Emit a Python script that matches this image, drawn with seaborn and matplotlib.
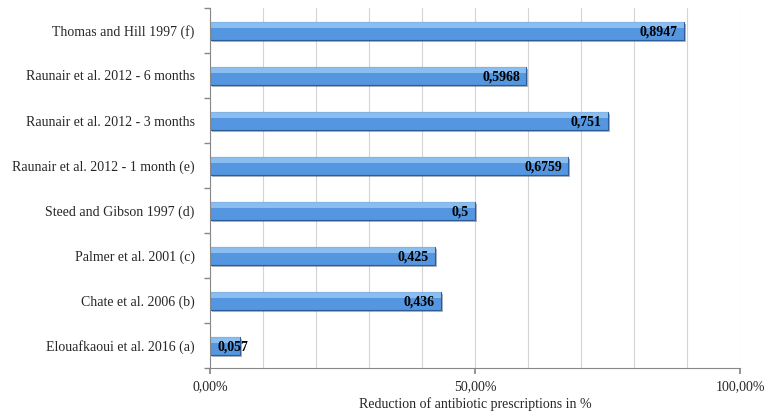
import matplotlib
matplotlib.use("Agg")
import matplotlib.pyplot as plt
import matplotlib.patheffects as pe
import numpy as np
import pandas as pd
import seaborn as sns

studies = [
    "Thomas and Hill 1997 (f)",
    "Raunair et al. 2012 - 6 months",
    "Raunair et al. 2012 - 3 months",
    "Raunair et al. 2012 - 1 month (e)",
    "Steed and Gibson 1997 (d)",
    "Palmer et al. 2001 (c)",
    "Chate et al. 2006 (b)",
    "Elouafkaoui et al. 2016 (a)",
]
reduction = [0.8947, 0.5968, 0.751, 0.6759, 0.5, 0.425, 0.436, 0.057]
value_labels = ["0,8947", "0,5968", "0,751", "0,6759", "0,5", "0,425", "0,436", "0,057"]
x_ticks = [0.0, 0.5, 1.0]
x_tick_labels = ["0,00%", "50,00%", "100,00%"]

df = pd.DataFrame({"study": studies, "reduction": reduction})

sns.set_theme(style="white")
plt.rcParams["font.family"] = ["Liberation Serif", "DejaVu Serif"]

fig = plt.figure(figsize=(7.67, 4.13), dpi=100)
ax = fig.add_axes([210 / 767, 1 - 368 / 413, 530 / 767, 360 / 413])

sns.barplot(data=df, x="reduction", y="study", orient="h", ax=ax,
            color="#5596e0", width=0.4, edgecolor="#2d5c99", linewidth=0.8,
            saturation=1)

# soft drop shadow plus a lighter upper band on each bar
for bar in list(ax.patches):
    bar.set_path_effects([pe.SimplePatchShadow(offset=(1.5, -1.5), alpha=0.35),
                          pe.Normal()])
    x0, y0 = bar.get_x(), bar.get_y()
    w, h = bar.get_width(), bar.get_height()
    ax.add_patch(plt.Rectangle((x0, y0), w, h * 0.35, facecolor="#94c4f3",
                               edgecolor="none", alpha=0.85, zorder=bar.get_zorder() + 0.1))

ax.set_xlim(0, 1.0)
ax.set_ylim(len(studies) - 0.5, -0.5)

# value labels sit inside the bar end; short bars keep them clear of the axis
fig.canvas.draw()
renderer = fig.canvas.get_renderer()
inv = ax.transData.inverted()
margin = 0.015
for i, (v, lab) in enumerate(zip(reduction, value_labels)):
    t = ax.text(v - 0.012, i + 0.03, lab, ha="right", va="center", fontsize=10,
                fontweight="bold", color="black", zorder=5)
    bb = t.get_window_extent(renderer)
    left = inv.transform((bb.x0, bb.y0))[0]
    if left < margin:
        t.set_x(margin)
        t.set_ha("left")

ax.set_xticks(x_ticks)
ax.set_xticklabels(x_tick_labels, fontsize=10)
ax.set_xticks(np.arange(0, 1.01, 0.1), minor=True)
ax.grid(True, axis="x", which="both", color="#d4d4d4", linewidth=0.8)
ax.set_axisbelow(True)

ax.set_yticks(range(len(studies)))
ax.set_yticklabels(studies, fontsize=10)
ax.set_yticks(np.arange(-0.5, len(studies), 1.0), minor=True)
ax.tick_params(axis="y", which="major", length=0, pad=11)
ax.tick_params(axis="y", which="minor", length=4, color="#888888", left=True)
ax.tick_params(axis="x", which="major", length=4, color="#888888", bottom=True, pad=5)
ax.tick_params(axis="x", which="minor", length=0)

ax.set_xlabel("Reduction of antibiotic prescriptions in %", fontsize=10, labelpad=3)
ax.set_ylabel("")

for side in ["top", "right"]:
    ax.spines[side].set_visible(False)
for side in ["left", "bottom"]:
    ax.spines[side].set_color("#888888")
    ax.spines[side].set_linewidth(0.8)

fig.savefig("out.png", dpi=100)
